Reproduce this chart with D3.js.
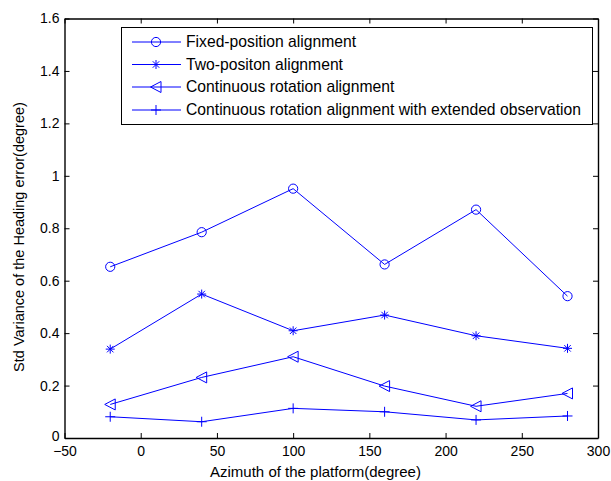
<!DOCTYPE html>
<html>
<head>
<meta charset="utf-8">
<script src="https://cdn.jsdelivr.net/npm/d3@7"></script>
<style>
  body { margin: 0; background: #fff; }
  text { font-family: "Liberation Sans", Arial, sans-serif; }
</style>
</head>
<body>
<script>
// data
const azimuth = [-20, 40, 100, 160, 220, 280];
const fixedPos = [0.653, 0.785, 0.951, 0.662, 0.871, 0.541];
const twoPos = [0.339, 0.549, 0.409, 0.469, 0.390, 0.342];
const contRot = [0.128, 0.231, 0.310, 0.198, 0.121, 0.170];
const contRotExt = [0.081, 0.062, 0.113, 0.100, 0.069, 0.084];
const seriesNames = [
  "Fixed-position alignment",
  "Two-positon alignment",
  "Continuous rotation alignment",
  "Continuous rotation alignment with extended observation"
];
const xTicks = [-50, 0, 50, 100, 150, 200, 250, 300];
const yTicks = [0, 0.2, 0.4, 0.6, 0.8, 1, 1.2, 1.4, 1.6];

const width = 611, height = 481;
const margin = {top: 18.5, right: 13, bottom: 43, left: 64.5};
const blue = "#0000ff";

const svg = d3.select("body").append("svg")
  .attr("width", width)
  .attr("height", height);

const x = d3.scaleLinear().domain([-50, 300]).range([margin.left, width - margin.right]);
const y = d3.scaleLinear().domain([0, 1.6]).range([height - margin.bottom, margin.top]);

const fmt = d => d3.format("")(+d.toFixed(1));

// axes, MATLAB style: ticks inside, on all four sides
const tickLen = 5;
svg.append("g")
  .attr("transform", `translate(0,${y(0)})`)
  .call(d3.axisBottom(x).tickValues(xTicks).tickSizeInner(-tickLen).tickSizeOuter(0).tickPadding(8).tickFormat(d3.format("")));
svg.append("g")
  .attr("transform", `translate(0,${y(1.6)})`)
  .call(d3.axisTop(x).tickValues(xTicks).tickSizeInner(-tickLen).tickSizeOuter(0).tickFormat(""));
const yAxisG = svg.append("g")
  .attr("transform", `translate(${x(-50)},0)`)
  .call(d3.axisLeft(y).tickValues(yTicks).tickSizeInner(-tickLen).tickSizeOuter(0).tickPadding(5).tickFormat(fmt));
svg.append("g")
  .attr("transform", `translate(${x(300)},0)`)
  .call(d3.axisRight(y).tickValues(yTicks).tickSizeInner(-tickLen).tickSizeOuter(0).tickFormat(""));

// lift the corner "0" a touch so it clears "-50"
yAxisG.selectAll(".tick text").filter(d => d === 0).attr("dy", "0.15em");

svg.selectAll(".domain").attr("stroke", "#000").attr("stroke-width", 1.4);
svg.selectAll(".tick line").attr("stroke", "#000");
svg.selectAll(".tick text").style("font-size", "14px").attr("fill", "#000");

// axis titles
svg.append("text")
  .attr("x", 315.5)
  .attr("y", 477)
  .attr("text-anchor", "middle")
  .style("font-size", "15px")
  .text("Azimuth of the platform(degree)");

svg.append("text")
  .attr("transform", `translate(24,237) rotate(-90)`)
  .attr("text-anchor", "middle")
  .style("font-size", "14.5px")
  .text("Std Variance of the Heading error(degree)");

// markers
const drawMarker = (g, type) => {
  if (type === 0) {
    g.append("circle").attr("r", 4.6).attr("fill", "none").attr("stroke", blue);
  } else if (type === 1) {
    const p = d3.path();
    const s = 4.5, t = s * 0.72;
    p.moveTo(-s, 0); p.lineTo(s, 0);
    p.moveTo(0, -s); p.lineTo(0, s);
    p.moveTo(-t, -t); p.lineTo(t, t);
    p.moveTo(-t, t); p.lineTo(t, -t);
    g.append("path").attr("d", p.toString()).attr("stroke", blue).attr("fill", "none");
  } else if (type === 2) {
    g.append("path").attr("d", "M-5.5,0L5,-5.5L5,5.5Z").attr("fill", "none").attr("stroke", blue);
  } else {
    g.append("path").attr("d", "M-5,0L5,0M0,-5L0,5").attr("stroke", blue).attr("fill", "none");
  }
};

const allSeries = [fixedPos, twoPos, contRot, contRotExt];
const line = d3.line().x((d, i) => x(azimuth[i])).y(d => y(d));

allSeries.forEach((vals, k) => {
  svg.append("path")
    .attr("d", line(vals))
    .attr("fill", "none")
    .attr("stroke", blue)
    .attr("stroke-width", 1);
  vals.forEach((v, i) => {
    const g = svg.append("g").attr("transform", `translate(${x(azimuth[i])},${y(v)})`);
    drawMarker(g, k);
  });
});

// legend
const legend = svg.append("g");
legend.append("rect")
  .attr("x", 121.5).attr("y", 27.5)
  .attr("width", 471).attr("height", 97)
  .attr("fill", "#fff").attr("stroke", "#000").attr("stroke-width", 1);

const rowY = [42, 64.5, 87, 110];
seriesNames.forEach((name, k) => {
  legend.append("line")
    .attr("x1", 132).attr("x2", 181)
    .attr("y1", rowY[k]).attr("y2", rowY[k])
    .attr("stroke", blue);
  const g = legend.append("g").attr("transform", `translate(156,${rowY[k]})`);
  drawMarker(g, k);
  legend.append("text")
    .attr("x", 186).attr("y", rowY[k])
    .attr("dy", "0.35em")
    .style("font-size", "15.7px")
    .text(name);
});
</script>
</body>
</html>
